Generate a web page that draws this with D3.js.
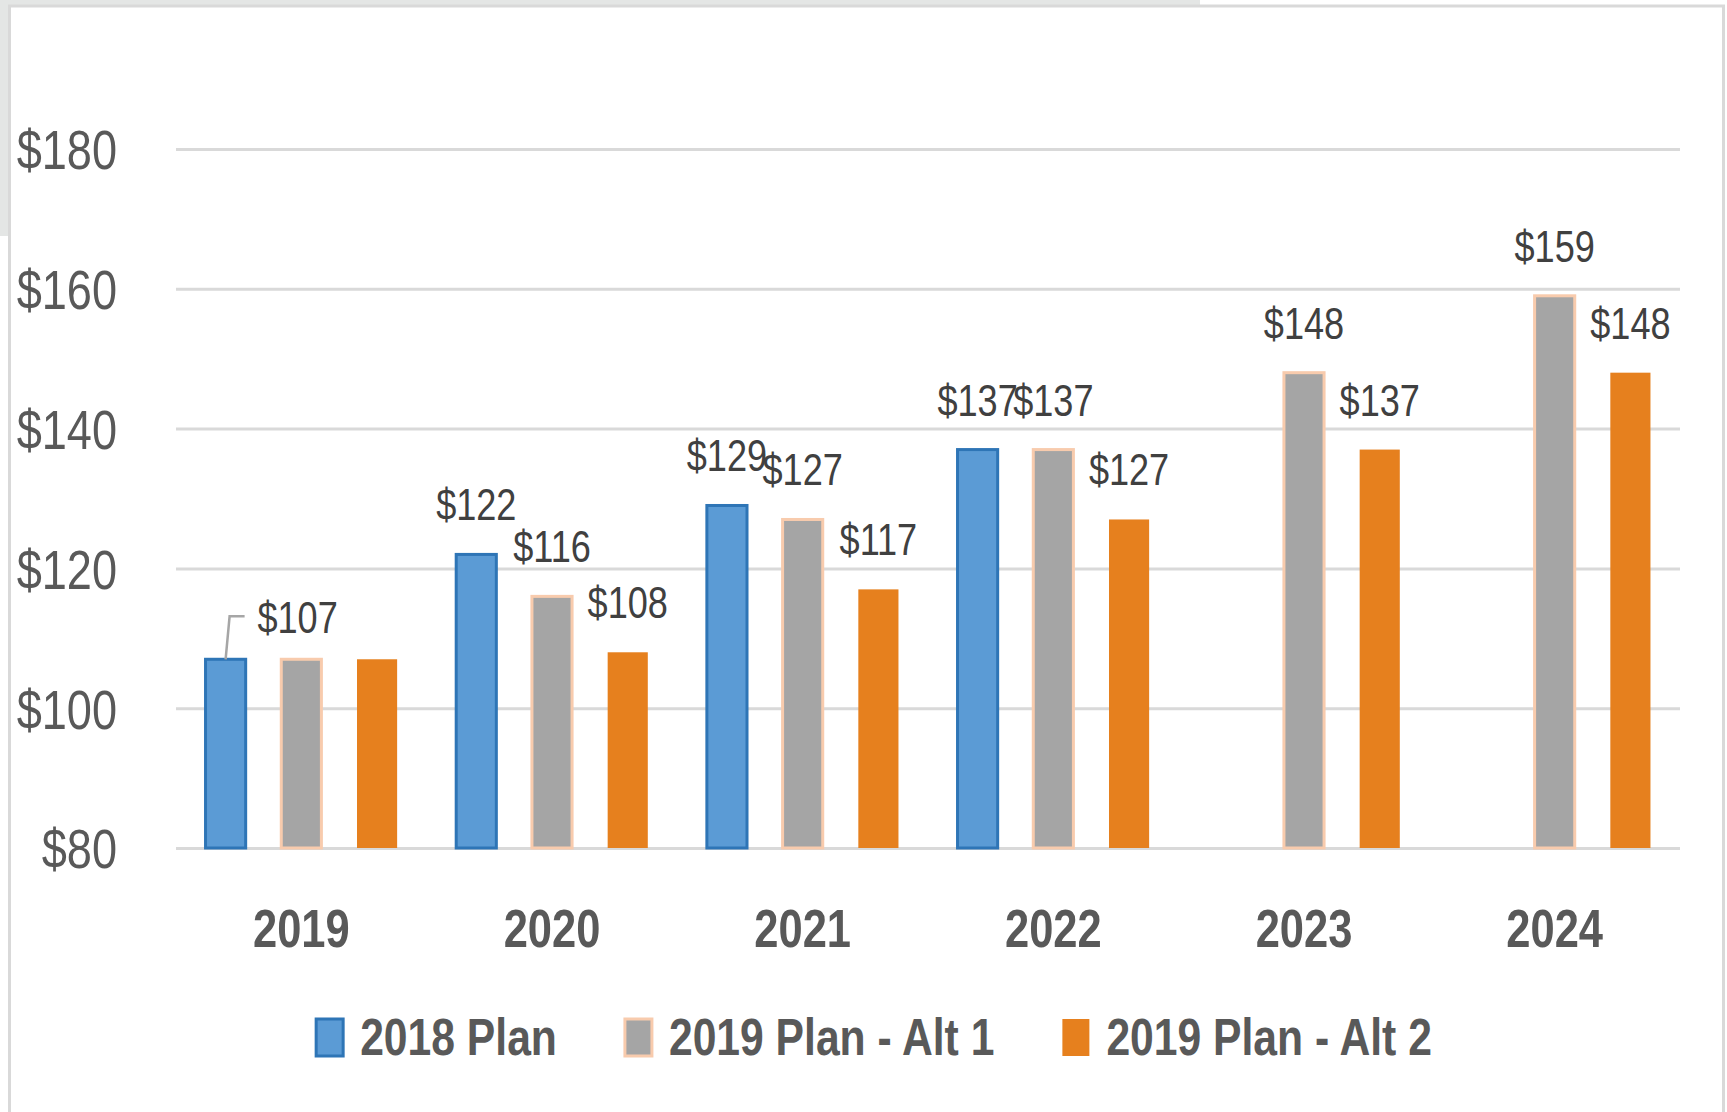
<!DOCTYPE html>
<html>
<head>
<meta charset="utf-8">
<script src="https://cdn.jsdelivr.net/npm/d3@7"></script>
<style>
  body { margin: 0; background: #fff; }
  svg { display: block; }
  text { font-family: "Liberation Sans", Arial, sans-serif; }
</style>
</head>
<body>
<div id="chart"></div>
<script>
// chart data
var years = ["2019", "2020", "2021", "2022", "2023", "2024"];
var seriesNames = ["2018 Plan", "2019 Plan - Alt 1", "2019 Plan - Alt 2"];
var plan2018 = [107, 122, 129, 137, null, null];
var plan2019Alt1 = [107, 116, 127, 137, 148, 159];
var plan2019Alt2 = [107, 108, 117, 127, 137, 148];
var yTicks = [80, 100, 120, 140, 160, 180];
// value labels that the original leaves out (year, series)
var hiddenLabels = [["2019", "2019 Plan - Alt 1"], ["2019", "2019 Plan - Alt 2"]];

var W = 1727, H = 1112;
var margin = {top: 149, right: 47, bottom: 264, left: 176};
var NARROW = 0.82;   // squeeze glyphs to a narrow face

var fills = {"2018 Plan": "#5b9bd5", "2019 Plan - Alt 1": "#a5a5a5", "2019 Plan - Alt 2": "#e6801e"};
var strokes = {"2018 Plan": "#2e75b6", "2019 Plan - Alt 1": "#f8cbad", "2019 Plan - Alt 2": "none"};

function squeeze(sel) {
    sel.each(function() {
        var len = this.getComputedTextLength();
        this.setAttribute("textLength", len * NARROW);
        this.setAttribute("lengthAdjust", "spacingAndGlyphs");
        this.__w = len * NARROW;
    });
}

var svg = d3.select("#chart").append("svg")
    .attr("width", W)
    .attr("height", H);

// frame around the chart, like the screenshot
svg.append("rect").attr("x", 0).attr("y", 0).attr("width", 1200).attr("height", 7).attr("fill", "#e4e6e5");
svg.append("rect").attr("x", 0).attr("y", 0).attr("width", 9).attr("height", 236).attr("fill", "#e4e6e5");
svg.append("rect")
    .attr("x", 9.5).attr("y", 6)
    .attr("width", 1714).attr("height", H + 20)
    .attr("fill", "#fff")
    .attr("stroke", "#d9d9d9")
    .attr("stroke-width", 3);

var x0 = d3.scaleBand()
    .domain(years)
    .range([margin.left, W - margin.right])
    .padding(0);

var x1 = d3.scaleBand()
    .domain(seriesNames)
    .range([0, x0.bandwidth()])
    .paddingInner(0.47)
    .paddingOuter(0.39);

var y = d3.scaleLinear()
    .domain([80, 180])
    .range([H - margin.bottom, margin.top]);

// gridlines and tick labels
var yAxis = d3.axisLeft(y)
    .tickValues(yTicks)
    .tickSize(-(W - margin.left - margin.right))
    .tickFormat(d => "$" + d);

var gy = svg.append("g")
    .attr("transform", "translate(" + margin.left + ",0)")
    .call(yAxis);
gy.select(".domain").remove();
gy.selectAll(".tick line")
    .attr("stroke", "#d9d9d9")
    .attr("stroke-width", 3);
gy.selectAll(".tick text")
    .attr("x", -59)
    .attr("dy", "0.36em")
    .attr("fill", "#595959")
    .attr("font-family", "Liberation Sans, Arial, sans-serif")
    .attr("font-size", 55)
    .call(squeeze);

// year labels
var xAxis = d3.axisBottom(x0).tickSize(0).tickPadding(0);
var gx = svg.append("g")
    .attr("transform", "translate(0," + (H - margin.bottom) + ")")
    .call(xAxis);
gx.select(".domain").remove();
gx.selectAll(".tick text")
    .attr("y", 99)
    .attr("dy", 0)
    .attr("fill", "#595959")
    .attr("font-family", "Liberation Sans, Arial, sans-serif")
    .attr("font-size", 53)
    .attr("font-weight", "bold")
    .call(squeeze);

// bar rows
var rows = [];
years.forEach(function(yr, i) {
    [plan2018, plan2019Alt1, plan2019Alt2].forEach(function(arr, j) {
        if (arr[i] != null) rows.push({year: yr, series: seriesNames[j], value: arr[i]});
    });
});

svg.append("g").selectAll("rect")
    .data(rows)
    .join("rect")
        .attr("x", d => x0(d.year) + x1(d.series))
        .attr("y", d => y(d.value))
        .attr("width", x1.bandwidth())
        .attr("height", d => y(80) - y(d.value))
        .attr("fill", d => fills[d.series])
        .attr("stroke", d => strokes[d.series])
        .attr("stroke-width", 3);

// value labels
var isHidden = d => hiddenLabels.some(h => h[0] === d.year && h[1] === d.series);
var isMoved = d => d.year === "2019" && d.series === "2018 Plan";

svg.append("g").selectAll("text")
    .data(rows.filter(d => !isHidden(d)))
    .join("text")
        .attr("x", d => x0(d.year) + x1(d.series) + x1.bandwidth() / 2 + (isMoved(d) ? 72 : 0))
        .attr("y", d => y(d.value) - (isMoved(d) ? 26 : 34))
        .attr("text-anchor", "middle")
        .attr("fill", "#404040")
        .attr("font-size", 44)
        .text(d => "$" + d.value)
        .call(squeeze);

// leader line for the moved 2019 label
var moved = rows.filter(isMoved)[0];
var mx = x0(moved.year) + x1(moved.series) + x1.bandwidth() / 2;
svg.append("path")
    .attr("d", "M" + mx + "," + y(moved.value) + "L" + (mx + 4) + "," + (y(moved.value) - 43) + "L" + (mx + 19) + "," + (y(moved.value) - 43))
    .attr("fill", "none")
    .attr("stroke", "#a6a6a6")
    .attr("stroke-width", 2.5);

// legend
var legend = svg.append("g");
var items = legend.selectAll("g")
    .data(seriesNames)
    .join("g");
items.append("rect")
    .attr("y", 1019)
    .attr("width", 27)
    .attr("height", 37)
    .attr("fill", d => fills[d])
    .attr("stroke", d => strokes[d])
    .attr("stroke-width", 3);
items.append("text")
    .attr("x", 44)
    .attr("y", 1055)
    .attr("fill", "#595959")
    .attr("font-size", 52)
    .attr("font-weight", "bold")
    .text(d => d)
    .call(squeeze);

var offsets = [], cur = 0;
items.each(function() {
    offsets.push(cur);
    cur += 44 + this.querySelector("text").__w + 68;
});
var total = cur - 68;
var start = 874 - total / 2;
items.attr("transform", (d, i) => "translate(" + (start + offsets[i]) + ",0)");
</script>
</body>
</html>
